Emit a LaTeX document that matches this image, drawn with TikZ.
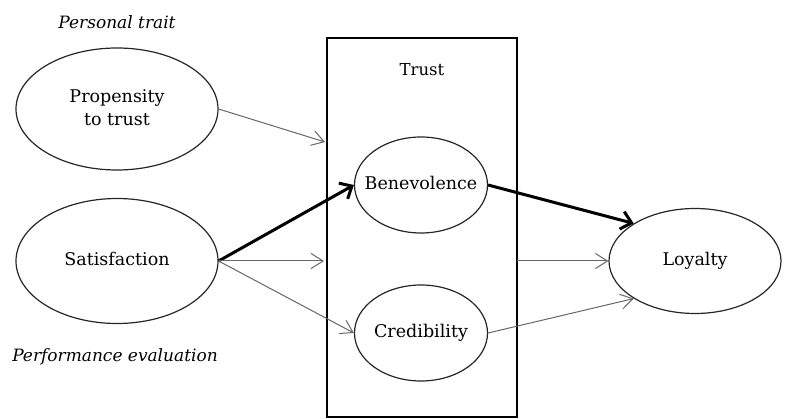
\documentclass[tikz,border=0pt]{standalone}
\usepackage{fontspec}
\setmainfont{DejaVu Serif}
\usetikzlibrary{shapes.geometric,arrows.meta}
% label of zero width, so the ellipse size is set only by its minimum size
\newcommand{\ctext}[1]{\makebox[0pt][c]{\begin{tabular}{@{}c@{}}#1\end{tabular}}}
\begin{document}
\begin{tikzpicture}[x=1pt,y=-1pt,
  construct/.style={draw=black!85,line width=1.2pt,ellipse,inner sep=0pt,
    font=\fontsize{17.5}{23}\selectfont},
  thinlink/.style={draw=black!60,line width=1pt,
    -{Straight Barb[length=12pt,width=15pt,line width=1pt]}},
  thicklink/.style={draw=black,line width=3pt,
    -{Straight Barb[length=10pt,width=18pt]}},
  caption/.style={font=\itshape\fontsize{17}{20}\selectfont}]
\useasboundingbox (0,0) rectangle (787,419);

% trust block
\node[draw,line width=1.5pt,minimum width=190pt,minimum height=379pt,inner sep=0pt]
  (trust) at (422,227.5) {};
\node[font=\fontsize{16.5}{19}\selectfont] (trustlbl) at (422,70) {Trust};

% constructs
\node[construct,minimum width=202pt,minimum height=122pt] (prop) at (117,109)
  {\ctext{Propensity\\to trust}};
\node[construct,minimum width=202pt,minimum height=125pt] (sat) at (117,261)
  {\ctext{Satisfaction}};
\node[construct,minimum width=133pt,minimum height=96pt] (ben) at (421,185)
  {\ctext{Benevolence}};
\node[construct,minimum width=133pt,minimum height=96pt] (cred) at (421,333)
  {\ctext{Credibility}};
\node[construct,minimum width=172pt,minimum height=105pt] (loy) at (695,261)
  {\ctext{Loyalty}};

% group captions
\node[caption] (trait) at (117,22) {Personal trait};
\node[caption] (perf) at (115,357) {Performance evaluation};

% free ends on the trust block
\coordinate (propIn) at (325,142);
\coordinate (satIn) at (324,261);
\coordinate (trustOut) at (517,261);

% paths
\draw[thinlink] (prop.east) -- (propIn);
\draw[thicklink] (sat.east) -- (ben.west);
\draw[thinlink] (sat.east) -- (satIn);
\draw[thinlink] (sat.east) -- (cred.west);
\draw[thicklink] (ben.east) -- (loy.north west);
\draw[thinlink] (trustOut) -- (loy.west);
\draw[thinlink] (cred.east) -- (loy.south west);
\end{tikzpicture}
\end{document}
